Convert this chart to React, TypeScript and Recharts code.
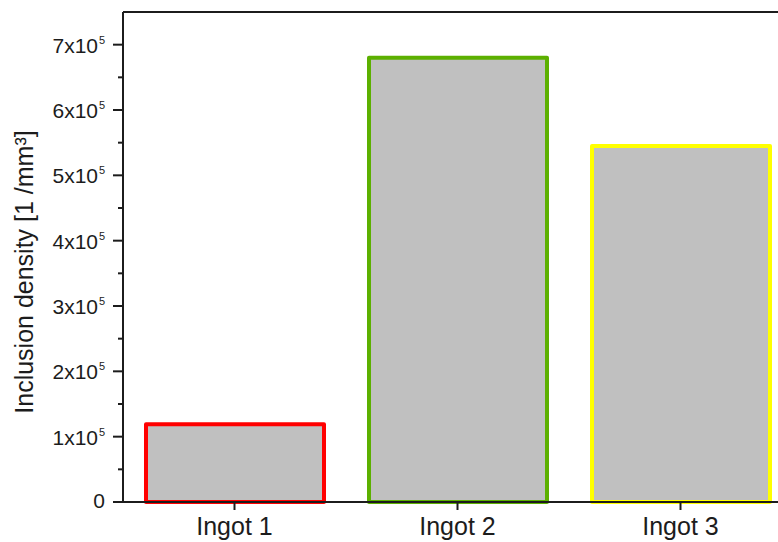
import { BarChart, Bar, XAxis, YAxis, Cell, ReferenceLine, Label } from 'recharts';

const categories = ['Ingot 1', 'Ingot 2', 'Ingot 3'];
const densities = [119000, 680000, 545000];
const outlineColors = ['#ff0000', '#5cb000', '#ffff00'];
const yTicks = [
  0, 50000, 100000, 150000, 200000, 250000, 300000, 350000,
  400000, 450000, 500000, 550000, 600000, 650000, 700000,
];
const Y_MAX = 750000;
const Y_TITLE = 'Inclusion density [1 /mm³]';

const FONT = '"Liberation Sans", Arial, sans-serif';
const INK = '#1c1c1c';

const data = categories.map((name, i) => ({ name, density: densities[i] }));

function YTick({ x, y, payload }: any) {
  const v = payload.value as number;
  const major = v % 100000 === 0;
  return (
    <g>
      <line x1={x - (major ? 10 : 5)} x2={x} y1={y} y2={y} stroke={INK} strokeWidth={2} />
      {major && v === 0 && (
        <text x={x - 18} y={y + 6} textAnchor="end" fontSize={21} fill={INK} fontFamily={FONT}>
          0
        </text>
      )}
      {major && v !== 0 && (
        <>
          <text x={x - 25} y={y + 8} textAnchor="end" fontSize={21} fill={INK} fontFamily={FONT}>
            {`${v / 100000}x10`}
          </text>
          <text x={x - 24} y={y - 1} fontSize={11} fill={INK} fontFamily={FONT}>
            5
          </text>
        </>
      )}
    </g>
  );
}

function XTick({ x, y, payload }: any) {
  return (
    <g>
      <line x1={x} x2={x} y1={y} y2={y + 8} stroke={INK} strokeWidth={2} />
      <text x={x} y={y + 33} textAnchor="middle" fontSize={25} fill={INK} fontFamily={FONT}>
        {payload.value}
      </text>
    </g>
  );
}

function YTitle({ viewBox }: any) {
  const cx = 33;
  const cy = viewBox.y + viewBox.height / 2 + 15;
  return (
    <text
      x={cx}
      y={cy}
      transform={`rotate(-90, ${cx}, ${cy})`}
      textAnchor="middle"
      fontSize={25}
      fill={INK}
      fontFamily={FONT}
    >
      {Y_TITLE}
    </text>
  );
}

export default function App() {
  return (
    <div
      style={{
        position: 'fixed', left: 0, top: 0, width: 778, height: 542,
        overflow: 'hidden', background: '#fff',
      }}
    >
      <BarChart
        width={800}
        height={542}
        data={data}
        margin={{ top: 12, right: 8, left: 0, bottom: 0 }}
      >
        <XAxis
          dataKey="name"
          height={40}
          tickSize={0}
          tickMargin={0}
          tick={<XTick />}
          axisLine={{ stroke: INK, strokeWidth: 2 }}
          interval={0}
        />
        <YAxis
          width={123}
          domain={[0, Y_MAX]}
          ticks={yTicks}
          tickSize={0}
          tickMargin={0}
          tick={<YTick />}
          axisLine={{ stroke: INK, strokeWidth: 2 }}
          interval={0}
        >
          <Label content={<YTitle />} />
        </YAxis>
        <YAxis yAxisId="right" orientation="right" width={0} domain={[0, Y_MAX]} tick={false}
          tickLine={false} axisLine={{ stroke: INK, strokeWidth: 2 }} />
        <ReferenceLine y={Y_MAX} stroke={INK} strokeWidth={2} />
        <Bar dataKey="density" barSize={178} fill="#c0c0c0" strokeWidth={4} isAnimationActive={false}>
          {data.map((d, i) => (
            <Cell key={d.name} fill="#c0c0c0" stroke={outlineColors[i]} strokeLinejoin="round" />
          ))}
        </Bar>
        <ReferenceLine y={0} stroke={INK} strokeWidth={2} />
      </BarChart>
    </div>
  );
}
